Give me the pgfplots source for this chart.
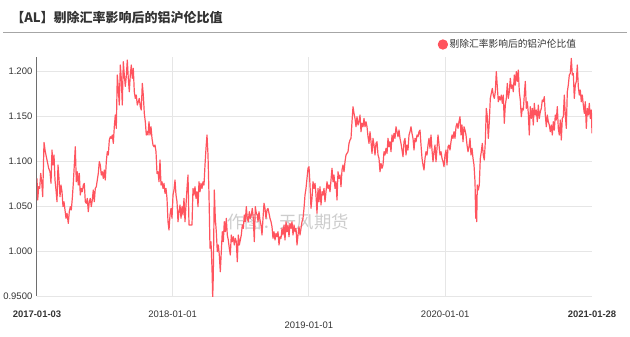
\documentclass[border=0pt]{standalone}
\usepackage{fontspec}
\usepackage{pgfplots}
\pgfplotsset{compat=1.18}
\setmainfont{Liberation Sans}
\newfontfamily\cjk{Noto Sans CJK SC}
\definecolor{linecol}{RGB}{255,84,94}
\definecolor{gridcol}{RGB}{230,230,230}
\definecolor{axiscol}{RGB}{110,110,110}
\definecolor{txtcol}{RGB}{51,51,51}
\definecolor{wmcol}{RGB}{205,205,205}
\begin{document}
\begin{tikzpicture}
\useasboundingbox (0,0) rectangle (472.5pt,252pt);
\node[anchor=west, inner sep=0pt, text=txtcol, font=\cjk\bfseries\fontsize{9.75}{11}\selectfont] at (8.25pt,239.25pt) {【AL】剔除汇率影响后的铝沪伦比值};
\draw[color=black!35, line width=0.75pt] (2.25pt,227.6pt) -- (470.25pt,227.6pt);
\node[text=wmcol, inner sep=0pt, font=\cjk\fontsize{13}{14}\selectfont] at (216pt,85.5pt) {作图：天风期货};
\begin{axis}[
  at={(27.75pt,30pt)}, anchor=south west,
  scale only axis, width=416.25pt, height=179.25pt,
  xmin=0, xmax=555, ymin=0.95, ymax=1.2156,
  axis x line*=bottom, axis y line*=left,
  x axis line style={draw=gridcol, line width=0.75pt},
  y axis line style={draw=axiscol, line width=0.75pt},
  major tick length=0pt,
  xmajorgrids=false, ymajorgrids=true,
  grid style={draw=gridcol, line width=0.75pt},
  xtick={0,135.6,271.9,408.2,555},
  xticklabels={\textbf{2017-01-03},2018-01-01,\raisebox{-8.25pt}{2019-01-01},2020-01-01,\textbf{2021-01-28}},
  extra x ticks={135.6,271.9,408.2}, extra x tick labels={},
  extra x tick style={xmajorgrids=true},
  ytick={0.95,1.0,1.05,1.1,1.15,1.2},
  yticklabels={0.9500,1.000,1.050,1.100,1.150,1.200},
  tick label style={font=\fontsize{7.1}{8}\selectfont, text=txtcol},
  xticklabel style={text height=5.1pt, text depth=0pt, yshift=-7.8pt},
  /pgf/number format/assume math mode=true,
  legend style={at={(rel axis cs:0.7216,1.0523)}, anchor=west, draw=none, fill=none, inner sep=0pt,
    font=\cjk\fontsize{7.3}{8}\selectfont, text=txtcol,
    nodes={inner sep=1.2pt}, /tikz/every even column/.append style={column sep=0pt}},
  legend image code/.code={\fill[linecol] (0pt,0pt) circle (3.4pt);},
  clip=true,
]
\addplot[linecol, line width=0.9pt, line join=round] coordinates {
(0,1.0807)(0.7,1.0567)(1.7,1.0715)(2.7,1.0696)(3.7,1.0863)(4.7,1.0770)(5.7,1.0604)(7,1.1207)(8.3,1.1104)(10,1.1011)
(11.7,1.0919)(13,1.0881)(14,1.0752)(15,1.1122)(16,1.0956)(17,1.1067)(18,1.0789)(19,1.0678)(20,1.0548)(21,1.0956)
(22,1.0807)(23,1.0604)(24,1.0733)(25,1.0659)(26,1.0493)(27,1.0548)(28,1.0456)(29,1.0363)(30,1.0419)(31.3,1.0307)
(32.3,1.0437)(33.3,1.0493)(34.3,1.0456)(35.3,1.0585)(36.3,1.0752)(37.3,1.0956)(38.3,1.1159)(39.3,1.0770)(40.3,1.0881)(41.3,1.0733)
(42.3,1.0863)(43.3,1.0622)(44.3,1.0696)(45.3,1.0659)(46.3,1.0733)(47.3,1.0752)(48.3,1.0548)(49.3,1.0530)(50.3,1.0585)(51.3,1.0437)
(52.3,1.0548)(53.3,1.0585)(54.3,1.0493)(55.3,1.0567)(56.3,1.0678)(57.3,1.0548)(58.3,1.0696)(59.3,1.0715)(60.3,1.0789)(61.3,1.0863)
(62.3,1.0993)(63.3,1.0956)(64.3,1.0844)(65.3,1.0881)(66.3,1.0807)(67.3,1.0900)(68.3,1.0789)(69.3,1.0993)(70.3,1.1104)(71.3,1.1067)
(72.3,1.1233)(73.3,1.1270)(74.3,1.1252)(75.3,1.1289)(76.3,1.1196)(77.3,1.1381)(78.3,1.1511)(79.3,1.1363)(80.3,1.1956)(81.3,1.1807)
(82.3,1.1622)(83.3,1.2067)(84.3,1.1919)(85.3,1.1622)(86.3,1.2104)(87.3,1.1956)(88.3,1.1830)(89.3,1.1941)(90.3,1.2122)(91.3,1.1919)
(92.3,1.1770)(93.3,1.1956)(94.3,1.2067)(95.3,1.1919)(96.3,1.2030)(97.3,1.1770)(98.3,1.1696)(99.3,1.1733)(100.3,1.1622)(101.3,1.1659)
(102.3,1.1696)(103.3,1.1604)(104.3,1.1567)(105.3,1.1863)(106.3,1.1733)(107.3,1.1530)(108.3,1.1437)(109.3,1.1289)(110.3,1.1326)
(111,1.1289)(112,1.1437)(113,1.1289)(114,1.1381)(115,1.1252)(116,1.1178)(117,1.1159)(118,1.1178)(119,1.1104)(120,1.0863)
(121,1.0881)(122,1.0770)(123,1.1011)(124,1.0733)(125,1.0770)(126,1.0696)(127,1.0752)(128,1.0641)(129,1.0696)(130,1.0585)
(131,1.0326)(132,1.0233)(133,1.0400)(134,1.0474)(135,1.0363)(136,1.0622)(137,1.0678)(138,1.0789)(139,1.0622)(140,1.0548)
(141,1.0326)(142,1.0437)(143,1.0511)(144,1.0363)(145,1.0493)(146,1.0400)(147,1.0585)(148,1.0326)(149,1.0511)(150,1.0696)
(151,1.0844)(152,1.0289)(153.7,1.0289)(155,1.0289)(156,1.0696)(157,1.0622)(158,1.0715)(159,1.0585)(160,1.0659)(161,1.0493)
(162,1.0770)(163,1.0659)(164,1.0752)(165,1.0696)(166,1.0770)(167,1.0733)(168,1.0956)(169,1.1141)(170,1.1289)(171,1.1067)
(172,1.0622)(173,1.0030)(174,1.0104)(175,0.9807)(175.7,0.9474)(176.3,0.9733)(177.3,1.0678)(178.3,1.0363)(179.3,1.0215)(180.3,0.9993)
(181.3,1.0067)(182.3,0.9956)(183.3,0.9770)(184.3,0.9993)(185.3,1.0215)(186.3,1.0104)(187.3,1.0326)(188.3,1.0215)(189.3,1.0363)(190.3,1.0178)
(191.3,1.0122)(192.3,1.0030)(193.3,0.9956)(194.3,1.0178)(195.3,1.0104)(196.3,1.0159)(197.3,1.0067)(198.3,1.0141)(199.3,1.0104)(200.3,0.9881)
(201.3,1.0178)(202.3,1.0067)(203.3,1.0122)(204.3,1.0178)(205.3,1.0289)(206.3,1.0252)(207.3,1.0400)(208.3,1.0326)(209.3,1.0493)(210.3,1.0363)
(211.3,1.0326)(212.3,1.0437)(213.3,1.0363)(214.3,1.0400)(215.3,1.0474)(216.3,1.0363)(217.3,1.0104)(218.3,1.0493)(219.3,1.0419)(220.3,1.0400)
(221,1.0326)(222,1.0437)(223,1.0344)(224,1.0289)(225,1.0178)(226,1.0363)(227,1.0530)(228,1.0474)(229,1.0363)(230,1.0456)
(231,1.0474)(232,1.0419)(233,1.0363)(234,1.0326)(235,1.0270)(236,1.0141)(237,1.0215)(238,1.0122)(239,1.0196)(240,1.0159)
(241,1.0215)(242,1.0067)(243,1.0159)(244,1.0141)(245,1.0252)(246,1.0178)(247,1.0289)(248,1.0122)(249,1.0326)(250,1.0215)
(251,1.0289)(252,1.0159)(253,1.0307)(254,1.0252)(255,1.0326)(256,1.0178)(257,1.0289)(258,1.0215)(259,1.0252)(260,1.0067)
(261,1.0178)(262,1.0270)(263,1.0178)(264,1.0252)(265,1.0326)(266,1.0363)(267,1.0474)(268,1.0622)(269,1.0696)(270,1.0807)
(271,1.0919)(272,1.0937)(273,1.0733)(274,1.0474)(275,1.0585)(276,1.0770)(277,1.0696)(278,1.0752)(279,1.0622)(280,1.0419)
(281,1.0696)(282,1.0548)(283,1.0715)(284,1.0511)(285,1.0659)(286,1.0622)(287,1.0696)(288,1.0548)(289,1.0659)(290,1.0770)
(291,1.0696)(292,1.0733)(293,1.0659)(294,1.0789)(295,1.0919)(296,1.0770)(297,1.0844)(298,1.0696)(299,1.0770)(300,1.0567)
(301,1.0881)(302,1.0807)(303,1.0844)(304,1.0715)(305,1.0900)(306,1.0956)(307,1.0881)(308,1.0993)(309,1.1067)(310,1.1085)
(311,1.1104)(312,1.1196)(313,1.1233)(314,1.1252)(315,1.1437)(316,1.1604)(317,1.1530)(318,1.1474)(319,1.1381)(320,1.1493)
(321,1.1400)(322,1.1437)(323,1.1511)(324,1.1326)(325,1.1419)(326,1.1381)(327,1.1474)(328,1.1381)(329,1.1437)
(330,1.1381)(331,1.1270)(332,1.1196)(333,1.1326)(334,1.1215)(335,1.1085)(336,1.1252)(337,1.1178)(338,1.1067)(339,1.1196)
(340,1.1215)(341,1.1067)(342,1.1030)(343,1.0881)(344,1.0974)(345,1.0919)(346,1.0956)(347,1.1104)(348,1.1067)(349,1.1141)
(350,1.1085)(351,1.1252)(352,1.1159)(353,1.1215)(354,1.1104)(355,1.1289)(356,1.1215)(357,1.1307)(358,1.1252)(359,1.1381)
(360,1.1326)(361,1.1270)(362,1.1344)(363,1.1252)(364,1.1196)(365,1.1122)(366,1.1048)(367,1.1215)(368,1.1252)(369,1.1067)
(370,1.1178)(371,1.1122)(372,1.1289)(373,1.1326)(374,1.1381)(375,1.1307)(376,1.1252)(377,1.1122)(378,1.1252)(379,1.1215)
(380,1.1289)(381,1.1270)(382,1.1326)(383,1.1344)(384,1.1178)(385,1.1030)(386,1.0956)(387,1.0900)(388,1.1030)(389,1.1104)
(390,1.1067)(391,1.1178)(392,1.1252)(393,1.1141)(394,1.1289)(395,1.1122)(396,1.0993)(397,1.1104)(398,1.1178)(399,1.0993)
(400,1.1141)(401,1.1289)(402,1.1178)(403,1.1067)(404,1.1104)(405,1.1030)(406,1.0993)(407,1.0937)(408,1.1067)(409,1.1122)
(410,1.0956)(411,1.1159)(412,1.1178)(413,1.1122)(414,1.1215)(415,1.1289)(416,1.1252)(417,1.1326)(418,1.1252)(419,1.1381)
(420,1.1419)(421,1.1363)(422,1.1437)(423,1.1493)(424,1.1289)(425,1.1400)(426,1.1215)(427,1.1381)(428,1.1344)(429,1.1289)
(430,1.1178)(431,1.1104)(432,1.1159)(433,1.1252)(434,1.1067)(435,1.1141)(436,1.1030)(437,1.0956)(438,1.0770)(438.7,1.0363)
(439.3,1.0622)(439.7,1.0326)(440.3,1.0733)(441.3,1.0678)(442.3,1.0733)(443.3,1.1030)(444.3,1.1104)(445.3,1.1196)(446.3,1.1067)(447.3,1.1011)
(448.3,1.1215)(449.3,1.1585)(450.3,1.1493)(451.3,1.1252)(452.3,1.1437)(453.3,1.1696)(454.3,1.1752)(455.3,1.1807)(456.3,1.1733)(457.3,1.1696)
(458.3,1.1770)(459.3,1.1993)(460.3,1.1826)(461.3,1.1659)(462.3,1.1715)(463.3,1.1678)(464.3,1.1733)(465.3,1.1641)(466.3,1.1733)(467.3,1.1419)
(468.3,1.1622)(469.3,1.1696)(470.3,1.1863)(471.3,1.1696)(472.3,1.1770)(473.3,1.1919)(474.3,1.1807)(475.3,1.1844)(476.3,1.1770)(477.3,1.1956)
(478.3,1.1844)(479.3,1.1993)(480.3,1.1885)(481.3,1.2011)(482.3,1.1770)(483.3,1.1678)(484.3,1.1493)(485.3,1.1585)(486.3,1.1567)(487.3,1.1733)
(488.3,1.1885)(489.3,1.1585)(490.3,1.1659)(491.3,1.1530)(492.3,1.1289)(493.3,1.1604)(494.3,1.1474)(495.3,1.1585)(496.3,1.1400)(497.3,1.1641)
(498.3,1.1511)(499.3,1.1567)(500.3,1.1437)(501.3,1.1622)(502.3,1.1474)(503.3,1.1548)(504.3,1.1585)(505.3,1.1678)(506.3,1.1659)(507.3,1.1715)
(508.3,1.1511)(509.3,1.1381)(510.3,1.1511)(511.3,1.1437)(512.3,1.1400)(513.3,1.1326)(514.3,1.1400)(515.3,1.1289)(516.3,1.1437)(517.3,1.1344)
(518.3,1.1511)(519.3,1.1456)(520.3,1.1604)(521.3,1.1363)(522.3,1.1289)(523.3,1.1456)(524.3,1.1233)(525.3,1.1474)(526.3,1.1493)(527.3,1.1733)
(528.3,1.1511)(529.3,1.1363)(530.3,1.1770)(531.3,1.1844)(532.3,1.1956)(533.3,1.1974)(534.3,1.2141)(535.3,1.1956)(536.3,1.1974)(537.3,1.1696)
(538.3,1.1844)(539.3,1.1885)(540.3,1.2067)(541.3,1.1826)(542.3,1.1733)(543.3,1.1789)(544.3,1.1659)(545.3,1.1733)(546.3,1.1622)(547.3,1.1530)
(548.3,1.1659)(549.3,1.1363)(550.3,1.1585)(551.3,1.1511)(552.3,1.1641)(553.3,1.1474)(554.3,1.1567)(555,1.1307)
};
\addlegendentry{剔除汇率影响后的铝沪伦比值}
\end{axis}
\end{tikzpicture}
\end{document}
